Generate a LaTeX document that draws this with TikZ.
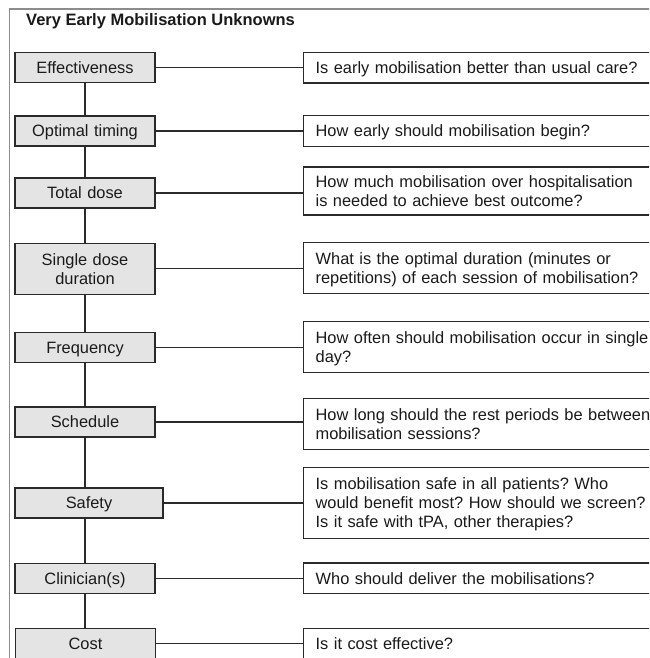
\documentclass[tikz,border=0pt]{standalone}
\usepackage{fontspec}
\setmainfont{Liberation Sans}
\frenchspacing
\definecolor{boxline}{HTML}{2A2A2A}
\definecolor{boxfill}{HTML}{E4E4E4}
\definecolor{framegray}{HTML}{8C8C8C}
\definecolor{txt}{HTML}{1A1A1A}
\tikzset{
  base/.style={draw=boxline, line width=1.3pt, inner ysep=0pt, text=txt,
    font=\frenchspacing\fontsize{16.4pt}{19pt}\selectfont, text height=11.7pt, text depth=0pt},
  lbox/.style={base, fill=boxfill, minimum width=140pt, minimum height=30pt,
    text width=136pt, inner xsep=2pt, align=center},
  rbox/.style={base, fill=white, anchor=west, minimum height=30.6pt,
    text width=400pt, inner xsep=12.5pt, align=left},
  twoline/.style={text depth=19pt, minimum height=51pt},
  threeline/.style={text depth=38pt, minimum height=71pt},
  conn/.style={draw=boxline, line width=1.3pt},
  frameline/.style={draw=framegray, line width=1.8pt}
}
\begin{document}
\begin{tikzpicture}[x=1pt,y=-1pt]
\useasboundingbox (0,0) rectangle (649,658);
\clip (0,0) rectangle (649,658);
\fill[white] (0,0) rectangle (649,658);
% outer frame
\draw[frameline] (9.5,700) -- (9.5,8.7) -- (700,8.7);
% title
\node[anchor=base west, text=txt, inner sep=0pt,
  font=\bfseries\fontsize{16.5pt}{19pt}\selectfont] (title) at (26,26) {Very Early Mobilisation Unknowns};
% left boxes
\node[lbox] (l1) at (85,67.8) {Effectiveness};
\node[lbox] (l2) at (85,131) {Optimal timing};
\node[lbox] (l3) at (85,193) {Total dose};
\node[lbox, twoline] (l4) at (85,268.7) {Single dose\\duration};
\node[lbox] (l5) at (85,347.7) {Frequency};
\node[lbox] (l6) at (85,422) {Schedule};
\node[lbox, minimum width=148pt, text width=144pt] (l7) at (89,503) {Safety};
\node[lbox] (l8) at (85,578.3) {Clinician(s)};
\node[lbox] (l9) at (85.5,643.5) {Cost};
% right boxes
\node[rbox] (r1) at (302.5,67.8) {Is early mobilisation better than usual care?};
\node[rbox] (r2) at (302.5,131) {How early should mobilisation begin?};
\node[rbox, twoline, minimum height=48pt] (r3) at (302.5,191) {How much mobilisation over hospitalisation\\is needed to achieve best outcome?};
\node[rbox, twoline] (r4) at (302.5,268.3) {What is the optimal duration (minutes or\\repetitions) of each session of mobilisation?};
\node[rbox, twoline] (r5) at (302.5,347.2) {How often should mobilisation occur in single\\day?};
\node[rbox, twoline] (r6) at (302.5,423.7) {How long should the rest periods be between\\mobilisation sessions?};
\node[rbox, threeline] (r7) at (302.5,502.7) {Is mobilisation safe in all patients? Who\\would benefit most? How should we screen?\\Is it safe with tPA, other therapies?};
\node[rbox] (r8) at (302.5,578.3) {Who should deliver the mobilisations?};
\node[rbox] (r9) at (302.5,643.5) {Is it cost effective?};
% vertical spine
\draw[conn] (l1.south) -- (l2.north);
\draw[conn] (l2.south) -- (l3.north);
\draw[conn] (l3.south) -- (l4.north);
\draw[conn] (l4.south) -- (l5.north);
\draw[conn] (l5.south) -- (l6.north);
\draw[conn] (l6.south) -- (l6.south |- l7.north);
\draw[conn] (l8.north |- l7.south) -- (l8.north);
\draw[conn] (l8.south) -- (l8.south |- l9.north);
% horizontal connectors
\foreach \i in {1,...,9}{
  \draw[conn] (l\i.east) -- (l\i.east -| r\i.west);
}
\end{tikzpicture}
\end{document}
